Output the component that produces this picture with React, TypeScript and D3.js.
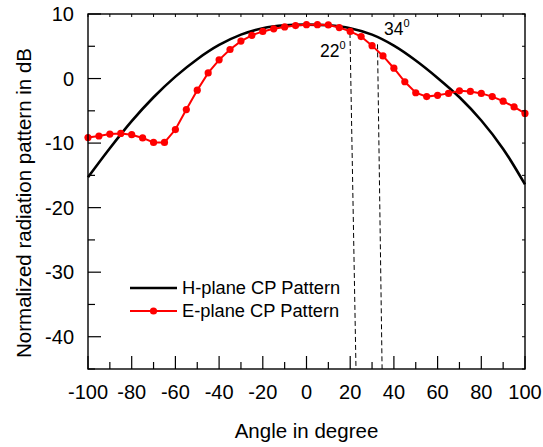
import React from "react";
import * as d3 from "d3";

// ---- data ----
const eAngles: number[] = d3.range(-100, 101, 5);
const eValues: number[] = [
  -9.15, -8.9, -8.6, -8.5, -8.7, -9.2, -9.9, -9.9, -7.9, -4.8,
  -1.8, 0.87, 2.9, 4.5, 5.8, 6.7, 7.3, 7.7, 8.0, 8.2,
  8.35, 8.35, 8.3, 7.9, 7.3, 6.5, 5.1, 3.5, 1.6, -0.5,
  -2.2, -2.8, -2.6, -2.3, -1.9, -2.0, -2.3, -2.8, -3.5, -4.4,
  -5.4,
];
const hAngles: number[] = [-100, -90, -80, -70, -60, -50, -40, -30, -20, -10, 0, 10, 20, 30, 40, 50, 60, 70, 80, 90, 100];
const hValues: number[] = [-15.3, -10.8, -6.6, -2.9, 0.3, 3.0, 5.2, 6.8, 7.8, 8.25, 8.35, 8.25, 7.8, 6.8, 5.1, 2.8, 0.1, -2.9, -6.5, -10.9, -16.4];

const xTicks: number[] = [-100, -80, -60, -40, -20, 0, 20, 40, 60, 80, 100];
const xMinor: number[] = d3.range(-90, 100, 20);
const yTicks: number[] = [10, 0, -10, -20, -30, -40];
const yMinor: number[] = [5, -5, -15, -25, -35, -45];

const seriesNames = ["H-plane CP Pattern", "E-plane CP Pattern"];
const xTitle = "Angle in degree";
const yTitle = "Normalized radiation pattern in dB";

// annotation dashed lines: [topAngle, topDb, bottomAngle, bottomDb]
const dashLines: number[][] = [
  [19.9, 7.06, 22.65, -45],
  [32.5, 5.3, 34.6, -45],
];
const annotations = [
  { text: "22", angle: 6.2, db: 3.3 },
  { text: "34", angle: 35.5, db: 6.75 },
];

const FONT = "'Liberation Sans', Arial, sans-serif";

export default function App() {
  const W = 543, H = 447;
  const x = d3.scaleLinear().domain([-100, 100]).range([88, 525]);
  const y = d3.scaleLinear().domain([-45, 10]).range([369, 14]);

  const hLine = d3
    .line<number>()
    .x((_, i) => x(hAngles[i]))
    .y((d) => y(d))
    .curve(d3.curveCatmullRom.alpha(0.5));
  const eLine = d3
    .line<number>()
    .x((_, i) => x(eAngles[i]))
    .y((d) => y(d));

  const [x0, x1] = x.range();
  const [y0, y1] = y.range(); // y0 bottom, y1 top

  return (
    <svg
      width={W}
      height={H}
      style={{ position: "absolute", left: 0, top: 0, background: "#fff" }}
      fontFamily={FONT}
    >
      <rect x={0} y={0} width={W} height={H} fill="#fff" />
      {/* dashed annotation lines */}
      {dashLines.map((d, i) => (
        <line
          key={"dl" + i}
          x1={x(d[0])}
          y1={y(d[1])}
          x2={x(d[2])}
          y2={y(d[3])}
          stroke="#000"
          strokeWidth={1}
          strokeDasharray="5,3"
        />
      ))}
      {/* H-plane */}
      <path d={hLine(hValues) || ""} fill="none" stroke="#000" strokeWidth={2.6} />
      {/* E-plane */}
      <path d={eLine(eValues) || ""} fill="none" stroke="#ff0000" strokeWidth={2} />
      {eValues.map((v, i) => (
        <circle key={"e" + i} cx={x(eAngles[i])} cy={y(v)} r={3.6} fill="#ff0000" />
      ))}

      {/* frame */}
      <rect x={x0} y={y1} width={x1 - x0} height={y0 - y1} fill="none" stroke="#000" strokeWidth={1.4} />

      {/* bottom ticks */}
      {xTicks.map((t) => (
        <g key={"xt" + t}>
          <line x1={x(t)} x2={x(t)} y1={y0} y2={y0 - 13} stroke="#000" strokeWidth={1.2} />
          <line x1={x(t)} x2={x(t)} y1={y1} y2={y1 + 3} stroke="#000" strokeWidth={1} />
          <text x={x(t)} y={399} textAnchor="middle" fontSize={20} fill="#000">
            {t}
          </text>
        </g>
      ))}
      {xMinor.map((t) => (
        <g key={"xm" + t}>
          <line x1={x(t)} x2={x(t)} y1={y0} y2={y0 - 7} stroke="#000" strokeWidth={1.2} />
          <line x1={x(t)} x2={x(t)} y1={y1} y2={y1 + 3} stroke="#000" strokeWidth={1} />
        </g>
      ))}
      {/* left ticks */}
      {yTicks.map((t) => (
        <g key={"yt" + t}>
          <line x1={x0} x2={x0 + 13} y1={y(t)} y2={y(t)} stroke="#000" strokeWidth={1.2} />
          <line x1={x1} x2={x1 - 3} y1={y(t)} y2={y(t)} stroke="#000" strokeWidth={1} />
          <text x={74} y={y(t)} dy="0.35em" textAnchor="end" fontSize={20} fill="#000">
            {t}
          </text>
        </g>
      ))}
      {yMinor.map((t) => (
        <g key={"ym" + t}>
          <line x1={x0} x2={x0 + 7} y1={y(t)} y2={y(t)} stroke="#000" strokeWidth={1.2} />
          <line x1={x1} x2={x1 - 3} y1={y(t)} y2={y(t)} stroke="#000" strokeWidth={1} />
        </g>
      ))}

      {/* annotations */}
      {annotations.map((a, i) => (
        <text key={"an" + i} x={x(a.angle)} y={y(a.db)} fontSize={17.5} fill="#000">
          {a.text}
          <tspan dy={-8} fontSize={11}>0</tspan>
        </text>
      ))}

      {/* legend */}
      <line x1={130} x2={177} y1={288} y2={288} stroke="#000" strokeWidth={2.6} />
      <text x={182} y={294} fontSize={18.3} fill="#000">{seriesNames[0]}</text>
      <line x1={130} x2={177} y1={311} y2={311} stroke="#ff0000" strokeWidth={2} />
      <circle cx={153.5} cy={311} r={3.6} fill="#ff0000" />
      <text x={182} y={317} fontSize={18.3} fill="#000">{seriesNames[1]}</text>

      {/* titles */}
      <text x={(x0 + x1) / 2} y={438} textAnchor="middle" fontSize={20.5} fill="#000">
        {xTitle}
      </text>
      <text
        transform={`translate(31,203) rotate(-90)`}
        textAnchor="middle"
        fontSize={20.5}
        fill="#000"
      >
        {yTitle}
      </text>
    </svg>
  );
}
